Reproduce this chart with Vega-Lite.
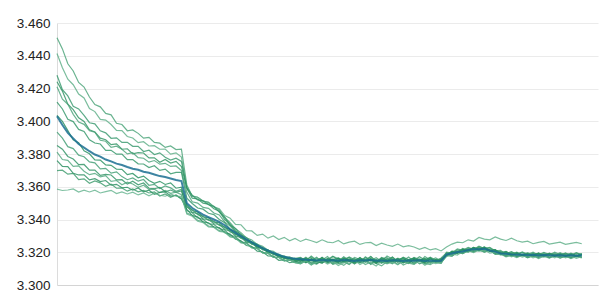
{
"$schema": "https://vega.github.io/schema/vega-lite/v6.json",
"width": 541, "height": 262,
"autosize": {"type": "none"},
"padding": {"left": 57, "top": 23, "right": 1, "bottom": 5},
"background": "white",
"config": {"view": {"stroke": null}, "axis": {"labelOverlap": false}},
"data": {"values": [
{"x":0,"g1":3.4510,"g2":3.4414,"g3":3.4281,"g4":3.4241,"g5":3.4210,"g6":3.4117,"g7":3.4036,"g8":3.3934,"g9":3.3852,"g10":3.3812,"g11":3.3760,"g12":3.3698,"g13":3.3585,"bl":3.4030},
{"x":1,"g1":3.4442,"g2":3.4327,"g3":3.4193,"g4":3.4184,"g5":3.4135,"g6":3.4075,"g7":3.3999,"g8":3.3897,"g9":3.3829,"g10":3.3766,"g11":3.3724,"g12":3.3701,"g13":3.3577,"bl":3.3977},
{"x":2,"g1":3.4351,"g2":3.4257,"g3":3.4155,"g4":3.4104,"g5":3.4104,"g6":3.4012,"g7":3.3943,"g8":3.3845,"g9":3.3785,"g10":3.3761,"g11":3.3723,"g12":3.3677,"g13":3.3580,"bl":3.3929},
{"x":3,"g1":3.4307,"g2":3.4223,"g3":3.4091,"g4":3.4071,"g5":3.4042,"g6":3.3998,"g7":3.3886,"g8":3.3833,"g9":3.3769,"g10":3.3725,"g11":3.3682,"g12":3.3682,"g13":3.3587,"bl":3.3895},
{"x":4,"g1":3.4237,"g2":3.4166,"g3":3.4075,"g4":3.4021,"g5":3.3995,"g6":3.3950,"g7":3.3869,"g8":3.3793,"g9":3.3735,"g10":3.3728,"g11":3.3672,"g12":3.3644,"g13":3.3568,"bl":3.3861},
{"x":5,"g1":3.4209,"g2":3.4142,"g3":3.4036,"g4":3.3999,"g5":3.3981,"g6":3.3938,"g7":3.3820,"g8":3.3783,"g9":3.3736,"g10":3.3695,"g11":3.3673,"g12":3.3648,"g13":3.3579,"bl":3.3839},
{"x":6,"g1":3.4148,"g2":3.4078,"g3":3.3991,"g4":3.3948,"g5":3.3942,"g6":3.3887,"g7":3.3801,"g8":3.3752,"g9":3.3701,"g10":3.3674,"g11":3.3642,"g12":3.3621,"g13":3.3568,"bl":3.3817},
{"x":7,"g1":3.4102,"g2":3.4059,"g3":3.3984,"g4":3.3934,"g5":3.3933,"g6":3.3867,"g7":3.3764,"g8":3.3746,"g9":3.3702,"g10":3.3682,"g11":3.3649,"g12":3.3636,"g13":3.3579,"bl":3.3797},
{"x":8,"g1":3.4088,"g2":3.4011,"g3":3.3942,"g4":3.3897,"g5":3.3884,"g6":3.3861,"g7":3.3763,"g8":3.3709,"g9":3.3669,"g10":3.3661,"g11":3.3632,"g12":3.3624,"g13":3.3562,"bl":3.3784},
{"x":9,"g1":3.4048,"g2":3.4007,"g3":3.3929,"g4":3.3887,"g5":3.3878,"g6":3.3822,"g7":3.3733,"g8":3.3712,"g9":3.3675,"g10":3.3668,"g11":3.3638,"g12":3.3603,"g13":3.3570,"bl":3.3766},
{"x":10,"g1":3.4039,"g2":3.3980,"g3":3.3896,"g4":3.3857,"g5":3.3841,"g6":3.3823,"g7":3.3731,"g8":3.3683,"g9":3.3672,"g10":3.3633,"g11":3.3610,"g12":3.3616,"g13":3.3578,"bl":3.3755},
{"x":11,"g1":3.3988,"g2":3.3944,"g3":3.3899,"g4":3.3862,"g5":3.3848,"g6":3.3799,"g7":3.3707,"g8":3.3691,"g9":3.3642,"g10":3.3638,"g11":3.3615,"g12":3.3591,"g13":3.3558,"bl":3.3741},
{"x":12,"g1":3.3980,"g2":3.3943,"g3":3.3871,"g4":3.3829,"g5":3.3829,"g6":3.3799,"g7":3.3706,"g8":3.3662,"g9":3.3643,"g10":3.3612,"g11":3.3594,"g12":3.3593,"g13":3.3569,"bl":3.3733},
{"x":13,"g1":3.3942,"g2":3.3907,"g3":3.3871,"g4":3.3832,"g5":3.3801,"g6":3.3766,"g7":3.3674,"g8":3.3643,"g9":3.3616,"g10":3.3628,"g11":3.3597,"g12":3.3573,"g13":3.3556,"bl":3.3721},
{"x":14,"g1":3.3947,"g2":3.3898,"g3":3.3847,"g4":3.3801,"g5":3.3808,"g6":3.3766,"g7":3.3681,"g8":3.3654,"g9":3.3634,"g10":3.3617,"g11":3.3579,"g12":3.3587,"g13":3.3567,"bl":3.3710},
{"x":15,"g1":3.3926,"g2":3.3869,"g3":3.3847,"g4":3.3808,"g5":3.3778,"g6":3.3740,"g7":3.3655,"g8":3.3634,"g9":3.3612,"g10":3.3596,"g11":3.3593,"g12":3.3569,"g13":3.3550,"bl":3.3704},
{"x":16,"g1":3.3897,"g2":3.3875,"g3":3.3815,"g4":3.3806,"g5":3.3774,"g6":3.3739,"g7":3.3665,"g8":3.3644,"g9":3.3623,"g10":3.3609,"g11":3.3569,"g12":3.3578,"g13":3.3562,"bl":3.3692},
{"x":17,"g1":3.3902,"g2":3.3849,"g3":3.3823,"g4":3.3776,"g5":3.3750,"g6":3.3717,"g7":3.3638,"g8":3.3609,"g9":3.3591,"g10":3.3584,"g11":3.3579,"g12":3.3562,"g13":3.3545,"bl":3.3685},
{"x":18,"g1":3.3871,"g2":3.3851,"g3":3.3797,"g4":3.3777,"g5":3.3760,"g6":3.3728,"g7":3.3621,"g8":3.3615,"g9":3.3588,"g10":3.3585,"g11":3.3554,"g12":3.3569,"g13":3.3561,"bl":3.3675},
{"x":19,"g1":3.3866,"g2":3.3829,"g3":3.3807,"g4":3.3750,"g5":3.3738,"g6":3.3700,"g7":3.3633,"g8":3.3589,"g9":3.3596,"g10":3.3564,"g11":3.3566,"g12":3.3543,"g13":3.3548,"bl":3.3665},
{"x":20,"g1":3.3840,"g2":3.3830,"g3":3.3780,"g4":3.3767,"g5":3.3743,"g6":3.3708,"g7":3.3614,"g8":3.3605,"g9":3.3569,"g10":3.3578,"g11":3.3569,"g12":3.3556,"g13":3.3542,"bl":3.3659},
{"x":21,"g1":3.3849,"g2":3.3799,"g3":3.3763,"g4":3.3745,"g5":3.3724,"g6":3.3679,"g7":3.3624,"g8":3.3593,"g9":3.3580,"g10":3.3560,"g11":3.3543,"g12":3.3535,"g13":3.3556,"bl":3.3650},
{"x":22,"g1":3.3827,"g2":3.3807,"g3":3.3774,"g4":3.3755,"g5":3.3727,"g6":3.3688,"g7":3.3591,"g8":3.3572,"g9":3.3566,"g10":3.3567,"g11":3.3548,"g12":3.3550,"g13":3.3542,"bl":3.3641},
{"x":23,"g1":3.3830,"g2":3.3781,"g3":3.3755,"g4":3.3724,"g5":3.3699,"g6":3.3688,"g7":3.3597,"g8":3.3584,"g9":3.3574,"g10":3.3551,"g11":3.3525,"g12":3.3527,"g13":3.3541,"bl":3.3635},
{"x":24,"g1":3.3610,"g2":3.3590,"g3":3.3595,"g4":3.3590,"g5":3.3566,"g6":3.3530,"g7":3.3490,"g8":3.3455,"g9":3.3482,"g10":3.3440,"g11":3.3462,"g12":3.3476,"g13":3.3434,"bl":3.3500},
{"x":25,"g1":3.3542,"g2":3.3545,"g3":3.3548,"g4":3.3530,"g5":3.3508,"g6":3.3498,"g7":3.3455,"g8":3.3441,"g9":3.3444,"g10":3.3426,"g11":3.3424,"g12":3.3460,"g13":3.3420,"bl":3.3470},
{"x":26,"g1":3.3536,"g2":3.3536,"g3":3.3520,"g4":3.3525,"g5":3.3500,"g6":3.3470,"g7":3.3446,"g8":3.3410,"g9":3.3436,"g10":3.3395,"g11":3.3416,"g12":3.3430,"g13":3.3389,"bl":3.3450},
{"x":27,"g1":3.3513,"g2":3.3512,"g3":3.3514,"g4":3.3500,"g5":3.3474,"g6":3.3463,"g7":3.3415,"g8":3.3401,"g9":3.3404,"g10":3.3386,"g11":3.3385,"g12":3.3421,"g13":3.3381,"bl":3.3430},
{"x":28,"g1":3.3505,"g2":3.3505,"g3":3.3490,"g4":3.3494,"g5":3.3468,"g6":3.3438,"g7":3.3411,"g8":3.3374,"g9":3.3401,"g10":3.3360,"g11":3.3380,"g12":3.3394,"g13":3.3354,"bl":3.3415},
{"x":29,"g1":3.3478,"g2":3.3477,"g3":3.3480,"g4":3.3465,"g5":3.3440,"g6":3.3430,"g7":3.3384,"g8":3.3370,"g9":3.3374,"g10":3.3356,"g11":3.3354,"g12":3.3391,"g13":3.3351,"bl":3.3400},
{"x":30,"g1":3.3460,"g2":3.3465,"g3":3.3445,"g4":3.3450,"g5":3.3428,"g6":3.3400,"g7":3.3380,"g8":3.3344,"g9":3.3371,"g10":3.3332,"g11":3.3351,"g12":3.3364,"g13":3.3327,"bl":3.3385},
{"x":31,"g1":3.3412,"g2":3.3424,"g3":3.3415,"g4":3.3400,"g5":3.3385,"g6":3.3380,"g7":3.3350,"g8":3.3336,"g9":3.3339,"g10":3.3326,"g11":3.3319,"g12":3.3356,"g13":3.3322,"bl":3.3365},
{"x":32,"g1":3.3380,"g2":3.3408,"g3":3.3365,"g4":3.3370,"g5":3.3360,"g6":3.3340,"g7":3.3340,"g8":3.3304,"g9":3.3331,"g10":3.3296,"g11":3.3311,"g12":3.3324,"g13":3.3293,"bl":3.3340},
{"x":33,"g1":3.3343,"g2":3.3370,"g3":3.3345,"g4":3.3330,"g5":3.3324,"g6":3.3325,"g7":3.3308,"g8":3.3296,"g9":3.3299,"g10":3.3290,"g11":3.3280,"g12":3.3316,"g13":3.3287,"bl":3.3318},
{"x":34,"g1":3.3320,"g2":3.3368,"g3":3.3305,"g4":3.3310,"g5":3.3306,"g6":3.3290,"g7":3.3297,"g8":3.3264,"g9":3.3291,"g10":3.3260,"g11":3.3270,"g12":3.3284,"g13":3.3257,"bl":3.3298},
{"x":35,"g1":3.3288,"g2":3.3332,"g3":3.3290,"g4":3.3276,"g5":3.3273,"g6":3.3279,"g7":3.3268,"g8":3.3258,"g9":3.3261,"g10":3.3256,"g11":3.3241,"g12":3.3278,"g13":3.3253,"bl":3.3278},
{"x":36,"g1":3.3275,"g2":3.3330,"g3":3.3260,"g4":3.3264,"g5":3.3263,"g6":3.3250,"g7":3.3260,"g8":3.3229,"g9":3.3256,"g10":3.3228,"g11":3.3236,"g12":3.3249,"g13":3.3226,"bl":3.3260},
{"x":37,"g1":3.3248,"g2":3.3303,"g3":3.3250,"g4":3.3236,"g5":3.3236,"g6":3.3242,"g7":3.3231,"g8":3.3224,"g9":3.3227,"g10":3.3224,"g11":3.3207,"g12":3.3244,"g13":3.3222,"bl":3.3242},
{"x":38,"g1":3.3237,"g2":3.3311,"g3":3.3222,"g4":3.3228,"g5":3.3228,"g6":3.3215,"g7":3.3225,"g8":3.3196,"g9":3.3223,"g10":3.3197,"g11":3.3203,"g12":3.3216,"g13":3.3196,"bl":3.3225},
{"x":39,"g1":3.3212,"g2":3.3286,"g3":3.3215,"g4":3.3202,"g5":3.3202,"g6":3.3209,"g7":3.3199,"g8":3.3194,"g9":3.3197,"g10":3.3196,"g11":3.3177,"g12":3.3214,"g13":3.3194,"bl":3.3210},
{"x":40,"g1":3.3205,"g2":3.3299,"g3":3.3190,"g4":3.3193,"g5":3.3196,"g6":3.3185,"g7":3.3196,"g8":3.3169,"g9":3.3196,"g10":3.3171,"g11":3.3176,"g12":3.3189,"g13":3.3169,"bl":3.3196},
{"x":41,"g1":3.3183,"g2":3.3278,"g3":3.3185,"g4":3.3172,"g5":3.3174,"g6":3.3181,"g7":3.3172,"g8":3.3168,"g9":3.3171,"g10":3.3170,"g11":3.3151,"g12":3.3188,"g13":3.3168,"bl":3.3183},
{"x":42,"g1":3.3178,"g2":3.3291,"g3":3.3162,"g4":3.3166,"g5":3.3170,"g6":3.3161,"g7":3.3171,"g8":3.3147,"g9":3.3174,"g10":3.3149,"g11":3.3154,"g12":3.3167,"g13":3.3147,"bl":3.3172},
{"x":43,"g1":3.3162,"g2":3.3270,"g3":3.3165,"g4":3.3152,"g5":3.3155,"g6":3.3164,"g7":3.3156,"g8":3.3153,"g9":3.3156,"g10":3.3155,"g11":3.3136,"g12":3.3172,"g13":3.3153,"bl":3.3165},
{"x":44,"g1":3.3163,"g2":3.3284,"g3":3.3150,"g4":3.3153,"g5":3.3158,"g6":3.3149,"g7":3.3160,"g8":3.3137,"g9":3.3163,"g10":3.3138,"g11":3.3143,"g12":3.3156,"g13":3.3136,"bl":3.3160},
{"x":45,"g1":3.3168,"g2":3.3266,"g3":3.3143,"g4":3.3158,"g5":3.3150,"g6":3.3132,"g7":3.3162,"g8":3.3137,"g9":3.3146,"g10":3.3129,"g11":3.3156,"g12":3.3165,"g13":3.3131,"bl":3.3157},
{"x":46,"g1":3.3149,"g2":3.3280,"g3":3.3165,"g4":3.3135,"g5":3.3170,"g6":3.3153,"g7":3.3141,"g8":3.3155,"g9":3.3164,"g10":3.3147,"g11":3.3138,"g12":3.3152,"g13":3.3149,"bl":3.3154},
{"x":47,"g1":3.3177,"g2":3.3270,"g3":3.3149,"g4":3.3153,"g5":3.3146,"g6":3.3137,"g7":3.3158,"g8":3.3131,"g9":3.3150,"g10":3.3123,"g11":3.3162,"g12":3.3171,"g13":3.3122,"bl":3.3152},
{"x":48,"g1":3.3152,"g2":3.3259,"g3":3.3170,"g4":3.3132,"g5":3.3162,"g6":3.3128,"g7":3.3146,"g8":3.3149,"g9":3.3141,"g10":3.3143,"g11":3.3144,"g12":3.3146,"g13":3.3140,"bl":3.3150},
{"x":49,"g1":3.3165,"g2":3.3276,"g3":3.3138,"g4":3.3161,"g5":3.3153,"g6":3.3150,"g7":3.3167,"g8":3.3140,"g9":3.3170,"g10":3.3134,"g11":3.3134,"g12":3.3162,"g13":3.3150,"bl":3.3153},
{"x":50,"g1":3.3143,"g2":3.3262,"g3":3.3162,"g4":3.3144,"g5":3.3174,"g6":3.3140,"g7":3.3135,"g8":3.3159,"g9":3.3147,"g10":3.3153,"g11":3.3158,"g12":3.3155,"g13":3.3128,"bl":3.3149},
{"x":51,"g1":3.3174,"g2":3.3258,"g3":3.3152,"g4":3.3134,"g5":3.3141,"g6":3.3158,"g7":3.3155,"g8":3.3128,"g9":3.3158,"g10":3.3126,"g11":3.3150,"g12":3.3176,"g13":3.3144,"bl":3.3151},
{"x":52,"g1":3.3162,"g2":3.3272,"g3":3.3144,"g4":3.3156,"g5":3.3165,"g6":3.3131,"g7":3.3164,"g8":3.3147,"g9":3.3137,"g10":3.3137,"g11":3.3140,"g12":3.3149,"g13":3.3119,"bl":3.3148},
{"x":53,"g1":3.3146,"g2":3.3251,"g3":3.3173,"g4":3.3140,"g5":3.3152,"g6":3.3144,"g7":3.3143,"g8":3.3135,"g9":3.3162,"g10":3.3120,"g11":3.3165,"g12":3.3159,"g13":3.3138,"bl":3.3152},
{"x":54,"g1":3.3171,"g2":3.3262,"g3":3.3149,"g4":3.3150,"g5":3.3143,"g6":3.3125,"g7":3.3159,"g8":3.3153,"g9":3.3153,"g10":3.3146,"g11":3.3146,"g12":3.3168,"g13":3.3132,"bl":3.3150},
{"x":55,"g1":3.3155,"g2":3.3268,"g3":3.3161,"g4":3.3129,"g5":3.3168,"g6":3.3153,"g7":3.3147,"g8":3.3132,"g9":3.3143,"g10":3.3132,"g11":3.3137,"g12":3.3143,"g13":3.3152,"bl":3.3147},
{"x":56,"g1":3.3138,"g2":3.3248,"g3":3.3141,"g4":3.3162,"g5":3.3155,"g6":3.3135,"g7":3.3168,"g8":3.3143,"g9":3.3165,"g10":3.3150,"g11":3.3155,"g12":3.3164,"g13":3.3125,"bl":3.3151},
{"x":57,"g1":3.3173,"g2":3.3258,"g3":3.3167,"g4":3.3143,"g5":3.3147,"g6":3.3147,"g7":3.3140,"g8":3.3158,"g9":3.3149,"g10":3.3125,"g11":3.3143,"g12":3.3153,"g13":3.3143,"bl":3.3149},
{"x":58,"g1":3.3150,"g2":3.3260,"g3":3.3153,"g4":3.3152,"g5":3.3173,"g6":3.3129,"g7":3.3156,"g8":3.3126,"g9":3.3159,"g10":3.3141,"g11":3.3162,"g12":3.3174,"g13":3.3135,"bl":3.3152},
{"x":59,"g1":3.3167,"g2":3.3241,"g3":3.3135,"g4":3.3137,"g5":3.3138,"g6":3.3156,"g7":3.3150,"g8":3.3150,"g9":3.3140,"g10":3.3131,"g11":3.3132,"g12":3.3147,"g13":3.3116,"bl":3.3148},
{"x":60,"g1":3.3144,"g2":3.3256,"g3":3.3164,"g4":3.3159,"g5":3.3161,"g6":3.3138,"g7":3.3132,"g8":3.3138,"g9":3.3168,"g10":3.3117,"g11":3.3152,"g12":3.3161,"g13":3.3147,"bl":3.3150},
{"x":61,"g1":3.3177,"g2":3.3244,"g3":3.3150,"g4":3.3132,"g5":3.3167,"g6":3.3134,"g7":3.3161,"g8":3.3146,"g9":3.3152,"g10":3.3144,"g11":3.3144,"g12":3.3150,"g13":3.3129,"bl":3.3147},
{"x":62,"g1":3.3158,"g2":3.3236,"g3":3.3171,"g4":3.3149,"g5":3.3144,"g6":3.3150,"g7":3.3144,"g8":3.3129,"g9":3.3144,"g10":3.3135,"g11":3.3159,"g12":3.3170,"g13":3.3140,"bl":3.3151},
{"x":63,"g1":3.3149,"g2":3.3250,"g3":3.3143,"g4":3.3161,"g5":3.3164,"g6":3.3126,"g7":3.3153,"g8":3.3156,"g9":3.3161,"g10":3.3152,"g11":3.3138,"g12":3.3144,"g13":3.3123,"bl":3.3149},
{"x":64,"g1":3.3170,"g2":3.3233,"g3":3.3158,"g4":3.3138,"g5":3.3150,"g6":3.3146,"g7":3.3165,"g8":3.3137,"g9":3.3135,"g10":3.3122,"g11":3.3150,"g12":3.3167,"g13":3.3149,"bl":3.3146},
{"x":65,"g1":3.3152,"g2":3.3240,"g3":3.3147,"g4":3.3155,"g5":3.3171,"g6":3.3137,"g7":3.3137,"g8":3.3149,"g9":3.3156,"g10":3.3138,"g11":3.3131,"g12":3.3156,"g13":3.3134,"bl":3.3150},
{"x":66,"g1":3.3164,"g2":3.3232,"g3":3.3168,"g4":3.3131,"g5":3.3143,"g6":3.3155,"g7":3.3158,"g8":3.3134,"g9":3.3164,"g10":3.3128,"g11":3.3158,"g12":3.3149,"g13":3.3126,"bl":3.3148},
{"x":67,"g1":3.3141,"g2":3.3218,"g3":3.3155,"g4":3.3150,"g5":3.3159,"g6":3.3129,"g7":3.3149,"g8":3.3153,"g9":3.3146,"g10":3.3149,"g11":3.3147,"g12":3.3173,"g13":3.3146,"bl":3.3151},
{"x":68,"g1":3.3174,"g2":3.3230,"g3":3.3140,"g4":3.3158,"g5":3.3149,"g6":3.3143,"g7":3.3162,"g8":3.3128,"g9":3.3155,"g10":3.3132,"g11":3.3137,"g12":3.3152,"g13":3.3120,"bl":3.3147},
{"x":69,"g1":3.3153,"g2":3.3214,"g3":3.3162,"g4":3.3135,"g5":3.3170,"g6":3.3134,"g7":3.3141,"g8":3.3144,"g9":3.3167,"g10":3.3125,"g11":3.3161,"g12":3.3162,"g13":3.3141,"bl":3.3149},
{"x":70,"g1":3.3165,"g2":3.3222,"g3":3.3146,"g4":3.3153,"g5":3.3152,"g6":3.3152,"g7":3.3155,"g8":3.3140,"g9":3.3141,"g10":3.3143,"g11":3.3144,"g12":3.3141,"g13":3.3131,"bl":3.3146},
{"x":71,"g1":3.3147,"g2":3.3208,"g3":3.3159,"g4":3.3141,"g5":3.3162,"g6":3.3138,"g7":3.3150,"g8":3.3132,"g9":3.3158,"g10":3.3134,"g11":3.3153,"g12":3.3165,"g13":3.3137,"bl":3.3148},
{"x":72,"g1":3.3200,"g2":3.3232,"g3":3.3183,"g4":3.3190,"g5":3.3182,"g6":3.3182,"g7":3.3182,"g8":3.3188,"g9":3.3180,"g10":3.3180,"g11":3.3177,"g12":3.3196,"g13":3.3173,"bl":3.3186},
{"x":73,"g1":3.3195,"g2":3.3250,"g3":3.3207,"g4":3.3185,"g5":3.3205,"g6":3.3176,"g7":3.3202,"g8":3.3184,"g9":3.3201,"g10":3.3176,"g11":3.3201,"g12":3.3193,"g13":3.3190,"bl":3.3192},
{"x":74,"g1":3.3220,"g2":3.3262,"g3":3.3202,"g4":3.3206,"g5":3.3202,"g6":3.3200,"g7":3.3192,"g8":3.3200,"g9":3.3197,"g10":3.3198,"g11":3.3194,"g12":3.3215,"g13":3.3183,"bl":3.3202},
{"x":75,"g1":3.3212,"g2":3.3258,"g3":3.3219,"g4":3.3196,"g5":3.3224,"g6":3.3196,"g7":3.3215,"g8":3.3192,"g9":3.3219,"g10":3.3192,"g11":3.3212,"g12":3.3209,"g13":3.3205,"bl":3.3205},
{"x":76,"g1":3.3230,"g2":3.3276,"g3":3.3207,"g4":3.3216,"g5":3.3211,"g6":3.3215,"g7":3.3211,"g8":3.3211,"g9":3.3211,"g10":3.3210,"g11":3.3202,"g12":3.3225,"g13":3.3199,"bl":3.3214},
{"x":77,"g1":3.3218,"g2":3.3268,"g3":3.3227,"g4":3.3212,"g5":3.3227,"g6":3.3204,"g7":3.3229,"g8":3.3206,"g9":3.3229,"g10":3.3198,"g11":3.3221,"g12":3.3216,"g13":3.3218,"bl":3.3218},
{"x":78,"g1":3.3232,"g2":3.3290,"g3":3.3217,"g4":3.3228,"g5":3.3220,"g6":3.3217,"g7":3.3214,"g8":3.3222,"g9":3.3214,"g10":3.3214,"g11":3.3212,"g12":3.3237,"g13":3.3205,"bl":3.3219},
{"x":79,"g1":3.3222,"g2":3.3280,"g3":3.3233,"g4":3.3210,"g5":3.3233,"g6":3.3201,"g7":3.3225,"g8":3.3208,"g9":3.3228,"g10":3.3201,"g11":3.3227,"g12":3.3222,"g13":3.3214,"bl":3.3221},
{"x":80,"g1":3.3230,"g2":3.3276,"g3":3.3212,"g4":3.3214,"g5":3.3207,"g6":3.3212,"g7":3.3207,"g8":3.3215,"g9":3.3212,"g10":3.3212,"g11":3.3203,"g12":3.3226,"g13":3.3194,"bl":3.3211},
{"x":81,"g1":3.3209,"g2":3.3294,"g3":3.3214,"g4":3.3191,"g5":3.3214,"g6":3.3191,"g7":3.3215,"g8":3.3189,"g9":3.3214,"g10":3.3189,"g11":3.3205,"g12":3.3203,"g13":3.3200,"bl":3.3204},
{"x":82,"g1":3.3212,"g2":3.3280,"g3":3.3190,"g4":3.3200,"g5":3.3198,"g6":3.3193,"g7":3.3192,"g8":3.3192,"g9":3.3192,"g10":3.3190,"g11":3.3189,"g12":3.3206,"g13":3.3183,"bl":3.3193},
{"x":83,"g1":3.3188,"g2":3.3272,"g3":3.3202,"g4":3.3182,"g5":3.3205,"g6":3.3175,"g7":3.3195,"g8":3.3178,"g9":3.3204,"g10":3.3172,"g11":3.3196,"g12":3.3192,"g13":3.3188,"bl":3.3191},
{"x":84,"g1":3.3201,"g2":3.3286,"g3":3.3189,"g4":3.3193,"g5":3.3185,"g6":3.3190,"g7":3.3179,"g8":3.3189,"g9":3.3185,"g10":3.3181,"g11":3.3176,"g12":3.3204,"g13":3.3172,"bl":3.3187},
{"x":85,"g1":3.3188,"g2":3.3270,"g3":3.3200,"g4":3.3174,"g5":3.3197,"g6":3.3174,"g7":3.3194,"g8":3.3176,"g9":3.3194,"g10":3.3168,"g11":3.3190,"g12":3.3188,"g13":3.3185,"bl":3.3184},
{"x":86,"g1":3.3202,"g2":3.3262,"g3":3.3182,"g4":3.3184,"g5":3.3186,"g6":3.3182,"g7":3.3179,"g8":3.3187,"g9":3.3179,"g10":3.3182,"g11":3.3179,"g12":3.3199,"g13":3.3170,"bl":3.3186},
{"x":87,"g1":3.3188,"g2":3.3268,"g3":3.3192,"g4":3.3174,"g5":3.3198,"g6":3.3166,"g7":3.3189,"g8":3.3169,"g9":3.3189,"g10":3.3169,"g11":3.3189,"g12":3.3183,"g13":3.3180,"bl":3.3182},
{"x":88,"g1":3.3200,"g2":3.3252,"g3":3.3180,"g4":3.3191,"g5":3.3183,"g6":3.3180,"g7":3.3181,"g8":3.3181,"g9":3.3181,"g10":3.3180,"g11":3.3175,"g12":3.3194,"g13":3.3166,"bl":3.3184},
{"x":89,"g1":3.3182,"g2":3.3260,"g3":3.3196,"g4":3.3174,"g5":3.3191,"g6":3.3168,"g7":3.3193,"g8":3.3171,"g9":3.3193,"g10":3.3162,"g11":3.3185,"g12":3.3184,"g13":3.3177,"bl":3.3180},
{"x":90,"g1":3.3194,"g2":3.3266,"g3":3.3182,"g4":3.3187,"g5":3.3179,"g6":3.3184,"g7":3.3176,"g8":3.3182,"g9":3.3179,"g10":3.3176,"g11":3.3173,"g12":3.3199,"g13":3.3170,"bl":3.3183},
{"x":91,"g1":3.3183,"g2":3.3250,"g3":3.3192,"g4":3.3169,"g5":3.3195,"g6":3.3169,"g7":3.3189,"g8":3.3166,"g9":3.3193,"g10":3.3164,"g11":3.3189,"g12":3.3186,"g13":3.3179,"bl":3.3181},
{"x":92,"g1":3.3201,"g2":3.3256,"g3":3.3175,"g4":3.3184,"g5":3.3183,"g6":3.3181,"g7":3.3178,"g8":3.3183,"g9":3.3181,"g10":3.3178,"g11":3.3175,"g12":3.3193,"g13":3.3166,"bl":3.3180},
{"x":93,"g1":3.3186,"g2":3.3262,"g3":3.3192,"g4":3.3174,"g5":3.3197,"g6":3.3165,"g7":3.3189,"g8":3.3171,"g9":3.3189,"g10":3.3165,"g11":3.3185,"g12":3.3180,"g13":3.3180,"bl":3.3182},
{"x":94,"g1":3.3195,"g2":3.3248,"g3":3.3182,"g4":3.3186,"g5":3.3180,"g6":3.3175,"g7":3.3172,"g8":3.3178,"g9":3.3175,"g10":3.3178,"g11":3.3175,"g12":3.3194,"g13":3.3166,"bl":3.3179},
{"x":95,"g1":3.3180,"g2":3.3254,"g3":3.3194,"g4":3.3169,"g5":3.3191,"g6":3.3166,"g7":3.3185,"g8":3.3168,"g9":3.3188,"g10":3.3162,"g11":3.3186,"g12":3.3183,"g13":3.3177,"bl":3.3181},
{"x":96,"g1":3.3194,"g2":3.3260,"g3":3.3178,"g4":3.3182,"g5":3.3178,"g6":3.3182,"g7":3.3177,"g8":3.3182,"g9":3.3180,"g10":3.3175,"g11":3.3172,"g12":3.3197,"g13":3.3163,"bl":3.3178},
{"x":97,"g1":3.3188,"g2":3.3252,"g3":3.3188,"g4":3.3171,"g5":3.3189,"g6":3.3169,"g7":3.3188,"g8":3.3169,"g9":3.3191,"g10":3.3166,"g11":3.3183,"g12":3.3182,"g13":3.3174,"bl":3.3181}
]},
"layer": [
{
"transform": [{"fold": ["g1","g2","g3","g4","g5","g6","g7","g8","g9","g10","g11","g12","g13"], "as": ["series","v"]}],
"mark": {"type": "line", "strokeWidth": 1.2, "opacity": 0.8},
"encoding": {
"x": {"field": "x", "type": "quantitative", "scale": {"domain": [0, 100], "nice": false}, "axis": {"labels": false, "ticks": false, "grid": false, "title": null, "domainColor": "#d4d4d4"}},
"y": {"field": "v", "type": "quantitative", "scale": {"domain": [3.3, 3.46], "nice": false, "zero": false}, "axis": {"title": null, "values": [3.3, 3.32, 3.34, 3.36, 3.38, 3.4, 3.42, 3.44, 3.46], "format": ".3f", "labelOverlap": false, "labelFont": "Liberation Sans", "labelFontSize": 13.5, "labelColor": "#222222", "ticks": false, "labelPadding": 7, "gridColor": "#ebebeb", "domainColor": "#dcdcdc"}},
"color": {"field": "series", "type": "nominal", "legend": null, "scale": {"domain": ["g1","g2","g3","g4","g5","g6","g7","g8","g9","g10","g11","g12","g13"], "range": ["#45a074","#5aad85","#33966a","#28905e","#47a077","#2e9465","#1f8c5a","#3c9b70","#299060","#4ea57c","#238b5b","#389869","#62b28c"]}}
}
},
{
"mark": {"type": "line", "color": "#1b6f92", "strokeWidth": 2, "opacity": 0.85},
"encoding": {
"x": {"field": "x", "type": "quantitative", "axis": {"labels": false, "ticks": false, "grid": false, "title": null, "domainColor": "#d4d4d4"}},
"y": {"field": "bl", "type": "quantitative", "axis": {"title": null, "values": [3.3, 3.32, 3.34, 3.36, 3.38, 3.4, 3.42, 3.44, 3.46], "format": ".3f", "labelOverlap": false, "labelFont": "Liberation Sans", "labelFontSize": 13.5, "labelColor": "#222222", "ticks": false, "labelPadding": 7, "gridColor": "#ebebeb", "domainColor": "#dcdcdc"}}
}
}
]
}
